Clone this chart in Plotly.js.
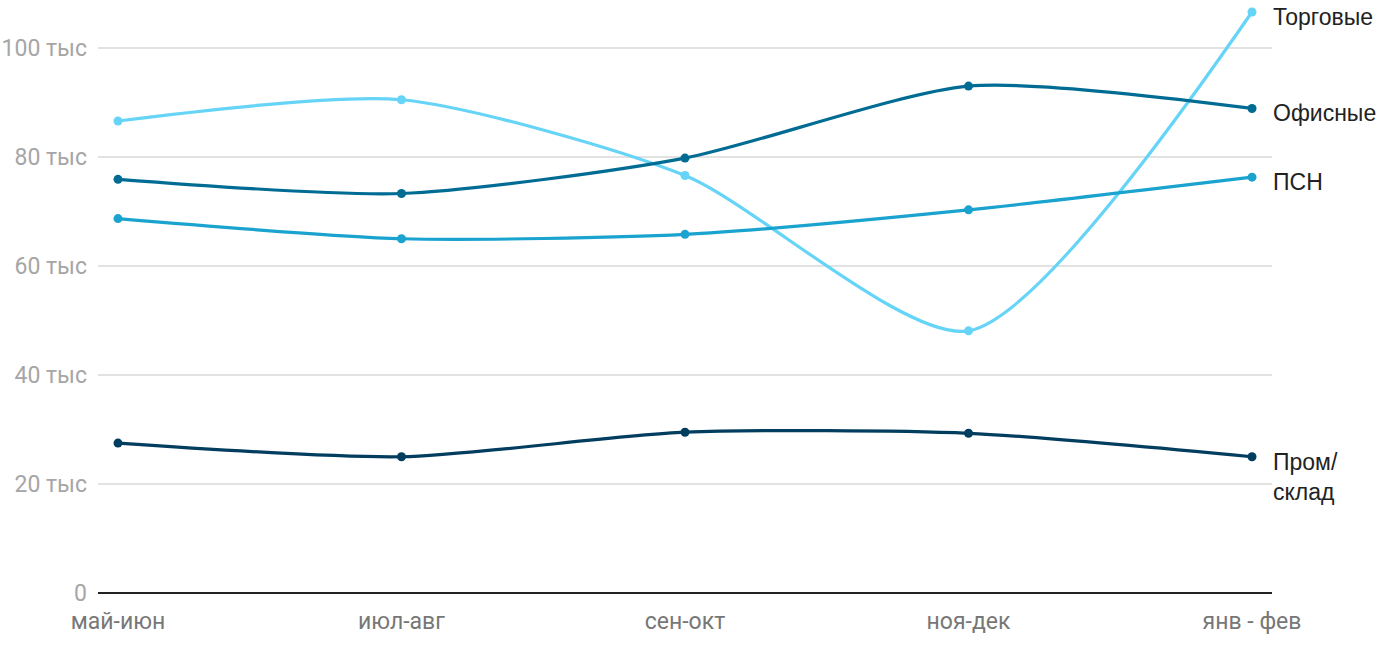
<!DOCTYPE html>
<html>
<head>
<meta charset="utf-8">
<script src="https://cdn.plot.ly/plotly-3.0.1.min.js"></script>
<style>html,body{margin:0;padding:0;background:#fff;}#chart{width:1400px;height:650px;}</style>
</head>
<body>
<div id="chart"></div>
<script>
const categories = ["май-июн", "июл-авг", "сен-окт", "ноя-дек", "янв - фев"];
const seriesNames = ["Торговые", "Офисные", "ПСН", "Пром/<br>склад"];
const torgovye = [86.6, 90.5, 76.6, 48.1, 106.6];
const ofisnye = [75.9, 73.3, 79.8, 93.0, 88.9];
const psn = [68.7, 65.0, 65.8, 70.3, 76.3];
const promsklad = [27.5, 25.0, 29.5, 29.3, 25.0];
const yTickVals = [0, 20, 40, 60, 80, 100];
const yTickText = ["0", "20 тыс", "40 тыс", "60 тыс", "80 тыс", "100 тыс"];
const colors = ["#66d4f7", "#006c94", "#1aa3cf", "#003d5e"];

const allSeries = [torgovye, ofisnye, psn, promsklad];
const traces = allSeries.map((vals, i) => ({
  x: categories, y: vals, type: "scatter", mode: "lines+markers",
  line: {shape: "spline", smoothing: 0.7, width: 3.2, color: colors[i]},
  marker: {size: 9, color: colors[i]},
  name: seriesNames[i], hoverinfo: "skip", cliponaxis: false
}));

const annotations = allSeries.map((vals, i) => ({
  x: categories[categories.length - 1], y: vals[vals.length - 1],
  xref: "x", yref: "y", text: seriesNames[i], showarrow: false,
  xanchor: "left", yanchor: "top", xshift: 19, yshift: 10, align: "left",
  font: {family: "Liberation Sans, Arial, sans-serif", size: 23, color: "#222222"}
}));

const layout = {
  width: 1400, height: 650,
  margin: {l: 98, r: 128, t: 0, b: 57},
  paper_bgcolor: "#ffffff", plot_bgcolor: "#ffffff",
  showlegend: false,
  xaxis: {
    type: "category", range: [-0.0705, 4.0705],
    showgrid: false, zeroline: false, showline: false,
    ticks: "", ticklabelstandoff: 12,
    tickfont: {family: "Roboto, sans-serif", size: 23, color: "#777777"}
  },
  yaxis: {
    range: [0, 108.8], tickvals: yTickVals, ticktext: yTickText,
    showgrid: true, gridcolor: "#e2e2e2", gridwidth: 1.5,
    zeroline: true, zerolinecolor: "#222222", zerolinewidth: 2,
    ticks: "", ticklabelstandoff: 10,
    tickfont: {family: "Roboto, sans-serif", size: 23, color: "#a6a6a6"}
  },
  annotations: annotations
};
Plotly.newPlot("chart", traces, layout, {displayModeBar: false, staticPlot: true});
</script>
</body>
</html>
